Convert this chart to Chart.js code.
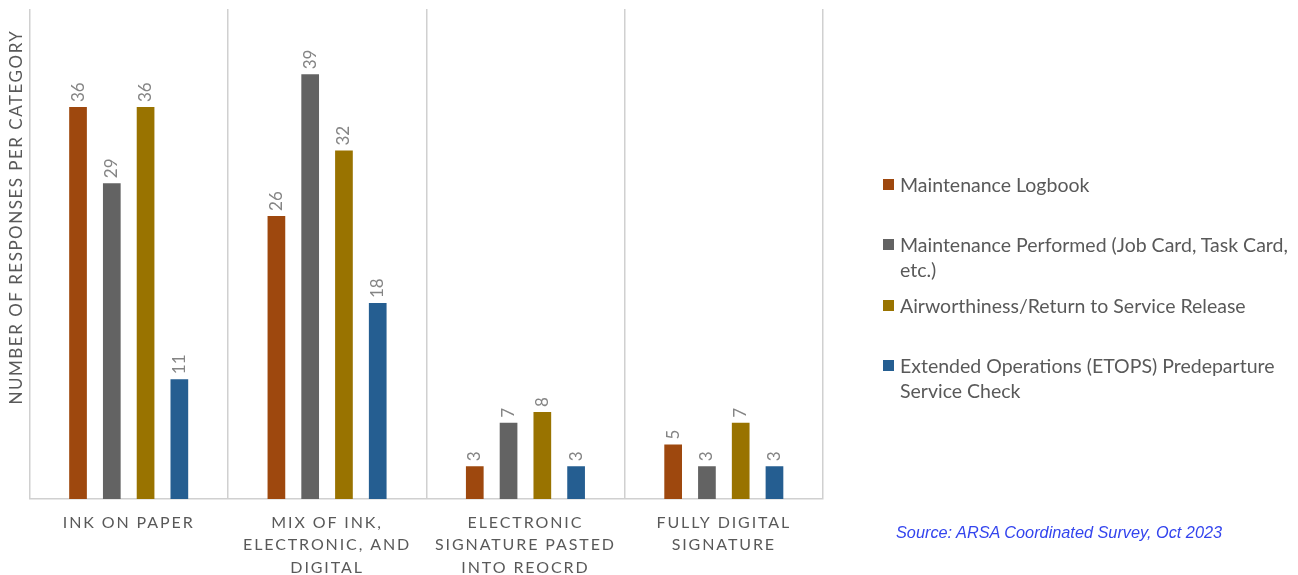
<!DOCTYPE html>
<html>
<head>
<meta charset="utf-8">
<script src="https://cdn.jsdelivr.net/npm/chart.js@4.4.1/dist/chart.umd.min.js"></script>
<style>
  html, body { margin: 0; padding: 0; background: #fff; }
  #wrap { position: relative; width: 1298px; height: 575px; }
  #c { position: absolute; left: 0; top: 0; }
  .leg { position: absolute; left: 900px; font-family: Lato, sans-serif; font-size: 19.5px; line-height: 25px; color: #595959; white-space: nowrap; }
  .sw { position: absolute; left: -17px; top: 7px; width: 11px; height: 11px; }
  #src { position: absolute; left: 896px; top: 523px; font-family: "Liberation Sans", Arial, sans-serif; font-style: italic; font-size: 16.3px; color: #3344ee; white-space: nowrap; }
</style>
</head>
<body>
<div id="wrap">
  <canvas id="c" width="1298" height="575"></canvas>
  <div id="legend"></div>
  <div id="src">Source: ARSA Coordinated Survey, Oct 2023</div>
</div>
<script>
const categories = [
  ["INK ON PAPER"],
  ["MIX OF INK,", "ELECTRONIC, AND", "DIGITAL"],
  ["ELECTRONIC", "SIGNATURE PASTED", "INTO REOCRD"],
  ["FULLY DIGITAL", "SIGNATURE"]
];
const seriesNames = [
  "Maintenance Logbook",
  "Maintenance Performed (Job Card, Task Card, etc.)",
  "Airworthiness/Return to Service Release",
  "Extended Operations (ETOPS) Predeparture Service Check"
];
const legendLines = [
  ["Maintenance Logbook"],
  ["Maintenance Performed (Job Card, Task Card,", "etc.)"],
  ["Airworthiness/Return to Service Release"],
  ["Extended Operations (ETOPS) Predeparture", "Service Check"]
];
const logbook = [36, 26, 3, 5];
const performed = [29, 39, 7, 3];
const airworthiness = [36, 32, 8, 7];
const etops = [11, 18, 3, 3];
const seriesColors = ["#9E480E", "#636363", "#997300", "#255E91"];
const yTitle = "NUMBER OF RESPONSES PER CATEGORY";

const seriesValues = [logbook, performed, airworthiness, etops];

// HTML legend
const legendTops = [171.5, 231.5, 293, 353];
const legEl = document.getElementById('legend');
legendLines.forEach((lines, i) => {
  const d = document.createElement('div');
  d.className = 'leg';
  d.style.top = legendTops[i] + 'px';
  d.innerHTML = '<span class="sw" style="background:' + seriesColors[i] + '"></span>' + lines.join('<br>');
  legEl.appendChild(d);
});

const valueLabels = {
  id: 'valueLabels',
  afterDatasetsDraw(chart) {
    const ctx = chart.ctx;
    ctx.save();
    ctx.font = '17px Lato, sans-serif';
    ctx.fillStyle = '#858585';
    ctx.textAlign = 'left';
    ctx.textBaseline = 'middle';
    chart.data.datasets.forEach((ds, di) => {
      chart.getDatasetMeta(di).data.forEach((bar, i) => {
        ctx.save();
        ctx.translate(bar.x, bar.y - 5);
        ctx.rotate(-Math.PI / 2);
        ctx.fillText(String(ds.data[i]), 0, 0);
        ctx.restore();
      });
    });
    ctx.restore();
  }
};

const spacing = {
  id: 'spacing',
  beforeDraw(chart) {
    const x = chart.scales.x;
    if (!x._lsPatched) {
      const orig = x.drawLabels;
      x.drawLabels = function (a) {
        const ctx = this.ctx; ctx.save(); ctx.letterSpacing = '1.9px'; orig.call(this, a); ctx.restore();
      };
      x._lsPatched = true;
    }
    const y = chart.scales.y;
    if (!y._lsPatched) {
      const orig2 = y.drawTitle;
      y.drawTitle = function () {
        const ctx = this.ctx; ctx.save(); ctx.letterSpacing = '1.5px'; ctx.translate(6, -37); orig2.call(this); ctx.restore();
      };
      y._lsPatched = true;
    }
  }
};

new Chart(document.getElementById('c'), {
  type: 'bar',
  data: {
    labels: categories,
    datasets: seriesNames.map((n, i) => ({
      label: n,
      data: seriesValues[i],
      backgroundColor: seriesColors[i],
      borderWidth: 0,
      categoryPercentage: 0.681,
      barPercentage: 0.524
    }))
  },
  options: {
    responsive: false,
    animation: false,
    devicePixelRatio: 1,
    layout: { padding: { left: 0, top: 9, right: 475, bottom: 0 } },
    plugins: { legend: { display: false }, tooltip: { enabled: false } },
    scales: {
      x: {
        offset: true,
        grid: { display: true, offset: true, color: '#D0D0D0', lineWidth: 1.5, drawTicks: false },
        border: { display: true, color: '#D0D0D0', width: 1.5 },
        ticks: { color: '#595959', font: { family: 'Lato', size: 16, lineHeight: 1.4 }, padding: 12.5, maxRotation: 0, autoSkip: false },
        afterFit(s) { s.height = 76; }
      },
      y: {
        min: 0, max: 45,
        grid: { display: false },
        border: { display: false },
        ticks: { display: false },
        title: { display: true, text: yTitle, color: '#595959', font: { family: 'Lato', size: 17 }, padding: { top: 0, bottom: 0 } },
        afterFit(s) { s.width = 29.5; }
      }
    }
  },
  plugins: [valueLabels, spacing]
});
</script>
</body>
</html>
